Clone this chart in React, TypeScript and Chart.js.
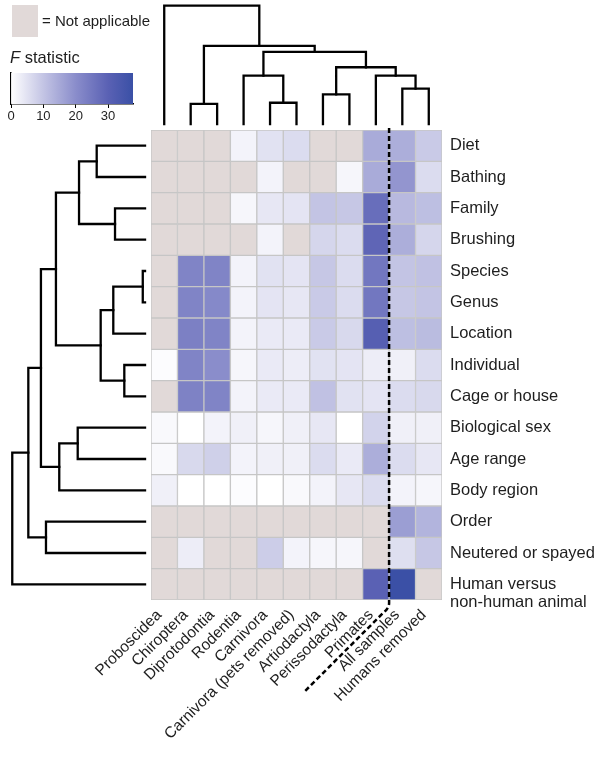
import React, { useEffect, useRef } from 'react';
import { Chart, registerables } from 'chart.js';

Chart.register(...registerables);

// ---------- data ----------
const columns = [
  'Proboscidea', 'Chiroptera', 'Diprotodontia', 'Rodentia', 'Carnivora',
  'Carnivora (pets removed)', 'Artiodactyla', 'Perissodactyla', 'Primates',
  'All samples', 'Humans removed',
];

const rows = [
  'Diet', 'Bathing', 'Family', 'Brushing', 'Species', 'Genus', 'Location',
  'Individual', 'Cage or house', 'Biological sex', 'Age range', 'Body region',
  'Order', 'Neutered or spayed', 'Human versus non-human animal',
];

// F statistic per row (columns order as above); null = not applicable
const fDiet = [null, null, null, 2, 5, 6, null, null, 14.5, 14, 9];
const fBathing = [null, null, null, null, 2, null, null, 1.5, 14.5, 18.5, 6];
const fFamily = [null, null, null, 1.5, 4, 4.5, 10, 9.5, 27, 12, 11];
const fBrushing = [null, null, null, null, 2, null, 7, 6, 29, 14, 7];
const fSpecies = [null, 22, 22, 2, 5, 4.5, 9.5, 6, 25, 10, 10.5];
const fGenus = [null, 22, 21, 2, 4.5, 4, 9, 6, 25, 9.5, 10];
const fLocation = [null, 23, 22, 2, 3.5, 3.5, 9, 6.5, 31, 11, 11.5];
const fIndividual = [0.5, 22, 20, 1.5, 3.5, 3, 5, 4.5, 3, 2.5, 6];
const fCage = [null, 22.5, 22, 2, 3.5, 3.5, 10.5, 5, 4.5, 6, 6.5];
const fSex = [1, 0, 2, 2.5, 1.5, 2.5, 4, 0, 7.5, 2.5, 2.5];
const fAge = [1, 6.5, 8, 2, 2.5, 2.5, 6, 3.5, 14, 6, 4];
const fBody = [2.5, 0, 0, 0.5, 0, 1, 2, 4, 6, 2, 1.5];
const fOrder = [null, null, null, null, null, null, null, null, null, 17, 13];
const fNeutered = [null, 3, null, null, 8.5, 2, 1.5, 1.5, null, 5.5, 9.5];
const fHuman = [null, null, null, null, null, null, null, null, 30, 37.5, null];

const fRows = [
  fDiet, fBathing, fFamily, fBrushing, fSpecies, fGenus, fLocation,
  fIndividual, fCage, fSex, fAge, fBody, fOrder, fNeutered, fHuman,
];

// colour scale range and legend ticks
const F_MAX = 37.7;
const colorbarTicks = [0, 10, 20, 30];

// dendrograms: [childA, childB, height]; leaves are 0..n-1, merges are n, n+1, ...
const columnLinkage = [
  [1, 2, 0.17],
  [4, 5, 0.18],
  [3, 12, 0.41],
  [6, 7, 0.25],
  [9, 10, 0.30],
  [8, 15, 0.41],
  [14, 16, 0.48],
  [13, 17, 0.61],
  [11, 18, 0.66],
  [0, 19, 1.0],
];

const rowLinkage = [
  [0, 1, 0.364],
  [2, 3, 0.226],
  [15, 16, 0.497],
  [4, 5, 0.017],
  [18, 6, 0.239],
  [7, 8, 0.156],
  [19, 20, 0.334],
  [17, 21, 0.671],
  [9, 10, 0.507],
  [23, 11, 0.646],
  [22, 24, 0.784],
  [12, 13, 0.746],
  [25, 26, 0.879],
  [27, 14, 1.0],
];

// the dashed divider sits right after this column
const dividerAfter = 'Primates';

// ---------- style ----------
const FONT = "'Liberation Sans', Arial, Helvetica, sans-serif";
const TEXT = '#1e1e1e';
const NA_COLOR = '#e1d9d8';
const CELL_BORDER = '#c6c6c6';
const BOTTOM_AXIS = 158;
const RIGHT_AXIS = 158;
const colorStops: [number, [number, number, number]][] = [
  [0, [255, 255, 255]],
  [10, [195, 196, 228]],
  [20, [138, 141, 203]],
  [30, [90, 97, 180]],
  [F_MAX, [58, 80, 166]],
];

function colorFor(v: number): string {
  for (let i = 1; i < colorStops.length; i++) {
    const [v1, c1] = colorStops[i];
    const [v0, c0] = colorStops[i - 1];
    if (v <= v1 || i === colorStops.length - 1) {
      const t = Math.max(0, Math.min(1, (v - v0) / (v1 - v0)));
      const c = c0.map((a, k) => Math.round(a + (c1[k] - a) * t));
      return `rgb(${c[0]},${c[1]},${c[2]})`;
    }
  }
  return '#fff';
}

function dendroSegments(linkage: number[][], nLeaves: number) {
  const pos: number[] = [];
  const h: number[] = [];
  for (let i = 0; i < nLeaves; i++) {
    pos[i] = i;
    h[i] = 0;
  }
  return linkage.map(([a, b, height], k) => {
    const id = nLeaves + k;
    pos[id] = (pos[a] + pos[b]) / 2;
    h[id] = height;
    return [
      [pos[a], h[a]],
      [pos[a], height],
      [pos[b], height],
      [pos[b], h[b]],
    ];
  });
}

const lineStyle = {
  type: 'line' as const,
  borderColor: '#000',
  borderWidth: 2.3,
  pointRadius: 0,
  pointHoverRadius: 0,
  fill: false,
  tension: 0,
  borderJoinStyle: 'miter' as const,
  borderCapStyle: 'square' as const,
};

const dividerPlugin = {
  id: 'divider',
  afterDatasetsDraw(chart: any) {
    const xs = chart.scales.x;
    const ys = chart.scales.y;
    const px = xs.getPixelForValue(columns.indexOf(dividerAfter) + 0.5);
    const top = ys.getPixelForValue(-0.5) - 2;
    const bottom = ys.getPixelForValue(rows.length - 0.5);
    const ctx = chart.ctx;
    ctx.save();
    ctx.strokeStyle = '#000';
    ctx.lineWidth = 2.5;
    ctx.setLineDash([5, 3]);
    ctx.beginPath();
    ctx.moveTo(px, top);
    ctx.lineTo(px, bottom + 3);
    ctx.quadraticCurveTo(px, bottom + 8, px - 5, bottom + 12);
    ctx.lineTo(px - 85, bottom + 92);
    ctx.stroke();
    ctx.restore();
  },
};

export default function App() {
  const mainRef = useRef<HTMLCanvasElement>(null);
  const barRef = useRef<HTMLCanvasElement>(null);

  useEffect(() => {
    const heatmap = fRows.map((vals, r) => ({
      type: 'bar' as const,
      label: rows[r],
      xAxisID: 'x',
      yAxisID: 'y',
      data: vals.map((_, c) => ({ x: c, y: [r - 0.5, r + 0.5] })),
      backgroundColor: vals.map((v) => (v === null ? NA_COLOR : colorFor(v as number))),
      borderColor: CELL_BORDER,
      borderWidth: 1,
      borderSkipped: false,
      grouped: false,
      barPercentage: 1,
      categoryPercentage: 1,
    }));

    const topDendro = dendroSegments(columnLinkage, columns.length).map((seg) => ({
      ...lineStyle,
      xAxisID: 'x',
      yAxisID: 'yTop',
      data: seg.map(([p, hh]) => ({ x: p, y: hh })),
    }));

    const leftDendro = dendroSegments(rowLinkage, rows.length).map((seg) => ({
      ...lineStyle,
      xAxisID: 'xd',
      yAxisID: 'y',
      data: seg.map(([p, hh]) => ({ x: hh, y: p })),
    }));

    const main = new Chart(mainRef.current as HTMLCanvasElement, {
      type: 'bar',
      data: { datasets: [...heatmap, ...topDendro, ...leftDendro] as any },
      options: {
        responsive: false,
        animation: false,
        events: [],
        layout: { padding: { top: 4, left: 10, right: 0, bottom: 0 } },
        plugins: {
          legend: { display: false },
          tooltip: { enabled: false },
          title: { display: false },
        },
        scales: {
          xd: {
            type: 'linear',
            axis: 'x',
            position: 'bottom',
            stack: 'cols',
            stackWeight: 141,
            display: false,
            reverse: true,
            offset: false,
            min: -0.045,
            max: 1.017,
            afterFit: (a: any) => {
              a.height = BOTTOM_AXIS;
            },
          },
          x: {
            type: 'linear',
            axis: 'x',
            position: 'bottom',
            stack: 'cols',
            stackWeight: 291,
            min: -0.5,
            max: columns.length - 0.5,
            offset: false,
            grid: { display: false, drawTicks: false },
            border: { display: false },
            ticks: {
              autoSkip: false,
              maxRotation: 45,
              minRotation: 45,
              padding: 6,
              labelOffset: -5,
              color: TEXT,
              font: { family: FONT, size: 15.5 },
              callback: (v: any) => columns[v as number] ?? '',
            },
            afterBuildTicks: (a: any) => {
              a.ticks = columns.map((_, i) => ({ value: i }));
            },
            afterFit: (a: any) => {
              a.height = BOTTOM_AXIS;
              a.paddingLeft = 0;
              a.paddingRight = 0;
            },
          },
          yTop: {
            type: 'linear',
            axis: 'y',
            position: 'right',
            stack: 'rows',
            stackWeight: 126,
            display: false,
            min: -0.05,
            max: 1.014,
            afterFit: (a: any) => {
              a.width = RIGHT_AXIS;
            },
          },
          y: {
            type: 'linear',
            axis: 'y',
            position: 'right',
            stack: 'rows',
            stackWeight: 470,
            reverse: true,
            min: -0.5,
            max: rows.length - 0.5,
            grid: { display: false, drawTicks: false },
            border: { display: false },
            ticks: {
              autoSkip: false,
              padding: 8,
              color: TEXT,
              font: { family: FONT, size: 16.5, lineHeight: 1.1 },
              callback: (v: any) => {
                const label = rows[v as number] ?? '';
                return label === 'Human versus non-human animal'
                  ? ['', 'Human versus', 'non-human animal']
                  : label;
              },
            },
            afterBuildTicks: (a: any) => {
              a.ticks = rows.map((_, i) => ({ value: i }));
            },
            afterFit: (a: any) => {
              a.width = RIGHT_AXIS;
              a.paddingTop = 0;
              a.paddingBottom = 0;
            },
          },
        } as any,
      },
      plugins: [dividerPlugin],
    });

    const bar = new Chart(barRef.current as HTMLCanvasElement, {
      type: 'bar',
      data: {
        labels: ['F'],
        datasets: [
          {
            data: [[0, F_MAX]] as any,
            backgroundColor: (ctx: any) => {
              const chart = ctx.chart;
              if (!chart.chartArea) return '#fff';
              const xs = chart.scales.x;
              const g = chart.ctx.createLinearGradient(
                xs.getPixelForValue(0), 0, xs.getPixelForValue(F_MAX), 0,
              );
              colorStops.forEach(([v, c]) =>
                g.addColorStop(v / F_MAX, `rgb(${c[0]},${c[1]},${c[2]})`),
              );
              return g;
            },
            borderWidth: 0,
            barPercentage: 1,
            categoryPercentage: 1,
          },
        ],
      },
      options: {
        indexAxis: 'y',
        responsive: false,
        animation: false,
        events: [],
        layout: { padding: { left: 11, right: 27, top: 11, bottom: 0 } },
        plugins: { legend: { display: false }, tooltip: { enabled: false } },
        scales: {
          x: {
            type: 'linear',
            min: 0,
            max: F_MAX,
            grid: {
              display: true,
              drawOnChartArea: false,
              drawTicks: true,
              tickLength: 4,
              color: '#000',
              lineWidth: 1,
            },
            border: { display: true, color: '#000', width: 1.5 },
            ticks: {
              padding: 1,
              color: TEXT,
              font: { family: FONT, size: 13 },
              callback: (v: any) => String(v),
            },
            afterBuildTicks: (a: any) => {
              a.ticks = colorbarTicks.map((v) => ({ value: v }));
            },
            afterFit: (a: any) => {
              a.height = 20;
              a.paddingLeft = 0;
              a.paddingRight = 0;
            },
          },
          y: {
            grid: { display: false },
            border: { display: true, color: '#000', width: 1.5 },
            ticks: { display: false },
            afterFit: (a: any) => {
              a.width = 0;
            },
          },
        } as any,
      },
    });

    return () => {
      main.destroy();
      bar.destroy();
    };
  }, []);

  return (
    <div
      style={{
        position: 'absolute',
        left: 0,
        top: 0,
        width: 600,
        height: 758,
        background: '#fff',
        fontFamily: FONT,
        color: TEXT,
        overflow: 'hidden',
      }}
    >
      <canvas
        ref={mainRef}
        width={600}
        height={758}
        style={{ position: 'absolute', left: 0, top: 0, width: 600, height: 758 }}
      />
      <div
        style={{
          position: 'absolute',
          left: 12,
          top: 5,
          width: 26,
          height: 32,
          background: NA_COLOR,
        }}
      />
      <div
        style={{
          position: 'absolute',
          left: 42,
          top: 13,
          fontSize: 15,
          lineHeight: '15px',
          whiteSpace: 'nowrap',
        }}
      >
        = Not applicable
      </div>
      <div
        style={{
          position: 'absolute',
          left: 10,
          top: 49,
          fontSize: 16.5,
          lineHeight: '16.5px',
          whiteSpace: 'nowrap',
        }}
      >
        <i>F</i> statistic
      </div>
      <canvas
        ref={barRef}
        width={160}
        height={62}
        style={{ position: 'absolute', left: 0, top: 62, width: 160, height: 62 }}
      />
    </div>
  );
}
